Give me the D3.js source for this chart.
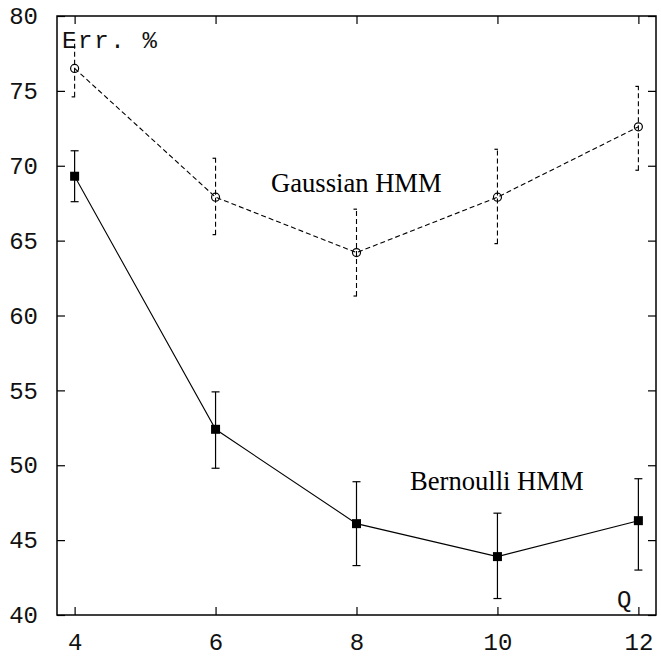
<!DOCTYPE html>
<html>
<head>
<meta charset="utf-8">
<script src="https://cdn.jsdelivr.net/npm/d3@7"></script>
<style>
  body { margin: 0; background: #fff; }
</style>
</head>
<body>
<div id="chart"></div>
<script>
// number of states Q
const qValues = [4, 6, 8, 10, 12];

// Gaussian HMM error rate (%) with lower / upper bars
const gaussMean = [76.5, 67.9, 64.2, 67.9, 72.6];
const gaussLow  = [74.6, 65.4, 61.3, 64.8, 69.7];
const gaussHigh = [78.4, 70.5, 67.1, 71.1, 75.3];

// Bernoulli HMM error rate (%)
const bernMean = [69.3, 52.4, 46.1, 43.9, 46.3];
const bernLow  = [67.6, 49.8, 43.3, 41.1, 43.0];
const bernHigh = [71.0, 54.9, 48.9, 46.8, 49.1];

const xTicks = [4, 6, 8, 10, 12];
const yTicks = [40, 45, 50, 55, 60, 65, 70, 75, 80];

const width = 661, height = 657;
const plotLeft = 57, plotRight = 656, plotTop = 16, plotBottom = 615;

const svg = d3.select("#chart")
  .append("svg")
  .attr("width", width)
  .attr("height", height);

const x = d3.scaleLinear().domain([3.75, 12.25]).range([plotLeft, plotRight]);
const y = d3.scaleLinear().domain([40, 80]).range([plotBottom, plotTop]);

const monoFont = "'Liberation Mono', 'DejaVu Sans Mono', monospace";
const serifFont = "'Liberation Serif', 'Times New Roman', serif";

// axes: ticks point inward on all four sides
const tickLen = 8;
svg.append("g")
  .attr("transform", `translate(0,${plotBottom})`)
  .call(d3.axisBottom(x).tickValues(xTicks).tickSize(-tickLen).tickPadding(17.5))
  .call(g => g.select(".domain").remove());
svg.append("g")
  .attr("transform", `translate(0,${plotTop})`)
  .call(d3.axisTop(x).tickValues(xTicks).tickSize(-tickLen).tickFormat(""))
  .call(g => g.select(".domain").remove());
svg.append("g")
  .attr("transform", `translate(${plotLeft},0)`)
  .call(d3.axisLeft(y).tickValues(yTicks).tickSize(-tickLen).tickPadding(19))
  .call(g => g.select(".domain").remove());
svg.append("g")
  .attr("transform", `translate(${plotRight},0)`)
  .call(d3.axisRight(y).tickValues(yTicks).tickSize(-tickLen).tickFormat(""))
  .call(g => g.select(".domain").remove());

svg.selectAll(".tick line").attr("stroke", "#000").attr("stroke-width", 1.2);
svg.selectAll(".tick text")
  .attr("font-family", monoFont)
  .attr("font-size", 24)
  .attr("fill", "#111");

// frame
svg.append("rect")
  .attr("x", plotLeft).attr("y", plotTop)
  .attr("width", plotRight - plotLeft).attr("height", plotBottom - plotTop)
  .attr("fill", "none")
  .attr("stroke", "#000")
  .attr("stroke-width", 1.5);

// axis labels inside the frame
svg.append("text")
  .attr("x", 62).attr("y", 48)
  .attr("font-family", monoFont)
  .attr("font-size", 24)
  .attr("textLength", 95)
  .attr("fill", "#111")
  .text("Err. %");
svg.append("text")
  .attr("x", 617).attr("y", 607)
  .attr("font-family", monoFont)
  .attr("font-size", 24)
  .attr("fill", "#111")
  .text("Q");

const gauss = qValues.map((q, i) => ({ q, m: gaussMean[i], lo: gaussLow[i], hi: gaussHigh[i] }));
const bern = qValues.map((q, i) => ({ q, m: bernMean[i], lo: bernLow[i], hi: bernHigh[i] }));

const line = d3.line().x(d => x(d.q)).y(d => y(d.m));

// Gaussian HMM - dashed
const dash = "5,3";
svg.append("path")
  .datum(gauss)
  .attr("d", line)
  .attr("fill", "none")
  .attr("stroke", "#000")
  .attr("stroke-width", 1.1)
  .attr("stroke-dasharray", dash);
svg.selectAll(".gbar")
  .data(gauss)
  .enter()
  .append("line")
  .attr("x1", d => x(d.q)).attr("x2", d => x(d.q))
  .attr("y1", d => y(d.lo)).attr("y2", d => y(d.hi))
  .attr("stroke", "#000")
  .attr("stroke-width", 1.1)
  .attr("stroke-dasharray", dash);
["lo", "hi"].forEach(k => {
  svg.selectAll(".gcap-" + k)
    .data(gauss)
    .enter()
    .append("line")
    .attr("x1", d => x(d.q) - 3).attr("x2", d => x(d.q) + 0.5)
    .attr("y1", d => y(d[k])).attr("y2", d => y(d[k]))
    .attr("stroke", "#000")
    .attr("stroke-width", 1.2);
});
svg.selectAll(".gpt")
  .data(gauss)
  .enter()
  .append("circle")
  .attr("cx", d => x(d.q))
  .attr("cy", d => y(d.m))
  .attr("r", 4)
  .attr("fill", "none")
  .attr("stroke", "#000")
  .attr("stroke-width", 1.2);

// Bernoulli HMM - solid
svg.append("path")
  .datum(bern)
  .attr("d", line)
  .attr("fill", "none")
  .attr("stroke", "#000")
  .attr("stroke-width", 1.1);
svg.selectAll(".bbar")
  .data(bern)
  .enter()
  .append("line")
  .attr("x1", d => x(d.q)).attr("x2", d => x(d.q))
  .attr("y1", d => y(d.lo)).attr("y2", d => y(d.hi))
  .attr("stroke", "#000")
  .attr("stroke-width", 1.2);
["lo", "hi"].forEach(k => {
  svg.selectAll(".bcap-" + k)
    .data(bern)
    .enter()
    .append("line")
    .attr("x1", d => x(d.q) - 4).attr("x2", d => x(d.q) + 4)
    .attr("y1", d => y(d[k])).attr("y2", d => y(d[k]))
    .attr("stroke", "#000")
    .attr("stroke-width", 1.2);
});
svg.selectAll(".bpt")
  .data(bern)
  .enter()
  .append("rect")
  .attr("x", d => x(d.q) - 4.5)
  .attr("y", d => y(d.m) - 4.5)
  .attr("width", 9)
  .attr("height", 9)
  .attr("fill", "#000");

// series labels
svg.append("text")
  .attr("x", 271).attr("y", 192)
  .attr("font-family", serifFont)
  .attr("font-size", 26.6)
  .text("Gaussian HMM");
svg.append("text")
  .attr("x", 410).attr("y", 490)
  .attr("font-family", serifFont)
  .attr("font-size", 26.6)
  .text("Bernoulli HMM");
</script>
</body>
</html>
